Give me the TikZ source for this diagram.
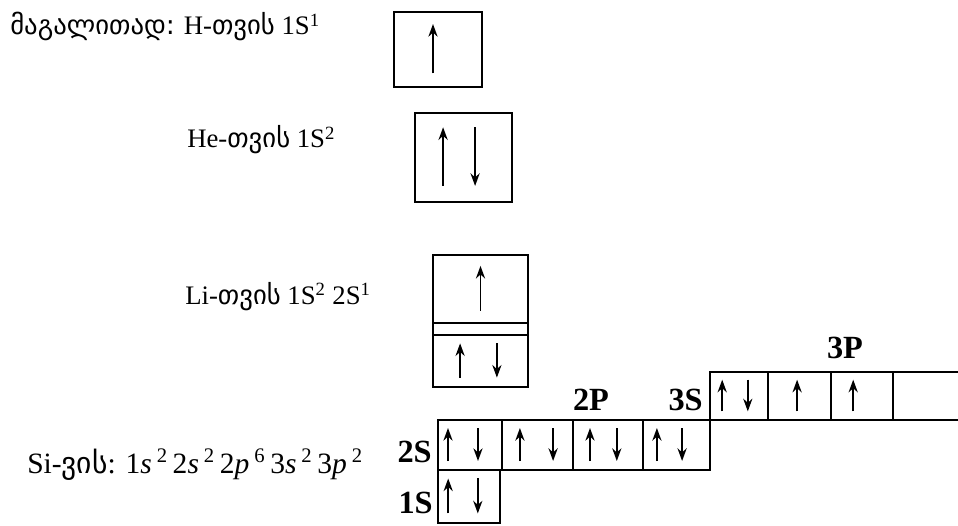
\documentclass[tikz,border=0pt]{standalone}
\usepackage{fontspec}
\setmainfont{Liberation Serif}
\newfontfamily\geo{DejaVu Sans}
\usetikzlibrary{arrows.meta,calc}

\newcommand{\spinup}[2]{\draw[spin] ($(#1.south)!0.18!(#1.north)+(#2,0)$) -- ($(#1.south)!0.84!(#1.north)+(#2,0)$);}
\newcommand{\spindn}[2]{\draw[spin] ($(#1.south)!0.84!(#1.north)+(#2,0)$) -- ($(#1.south)!0.18!(#1.north)+(#2,0)$);}
\newcommand{\shell}[3]{#1\textit{#2}\,\textsuperscript{#3}}

\begin{document}
\begin{tikzpicture}[
    orb/.style={rectangle, draw, line width=1.4pt, inner sep=0pt, outer sep=0pt},
    spin/.style={-{Stealth[length=9pt,width=6.5pt]}, line width=1.4pt},
    txt/.style={anchor=base west, inner sep=0pt, font=\fontsize{19}{22}\selectfont},
    lvl/.style={inner sep=0pt, font=\fontsize{23}{23}\selectfont\bfseries}
]
\useasboundingbox (0,0) rectangle (23.95,13.125);

\node[txt] (exH) at (0.25,12.25) {{\geo მაგალითად:} H-{\geo თვის} 1S\textsuperscript{1}};
\node[txt] (exHe) at (4.675,9.425) {He-{\geo თვის} 1S\textsuperscript{2}};
\node[txt] (exLi) at (4.625,5.525) {Li-{\geo თვის} 1S\textsuperscript{2} 2S\textsuperscript{1}};
\node[txt, font=\fontsize{21}{24}\selectfont] (exSi) at (0.675,1.3)
    {Si-{\geo ვის}: \shell{1}{s}{2}\,\shell{2}{s}{2}\,\shell{2}{p}{6}\,\shell{3}{s}{2}\,\shell{3}{p}{2}};

% H and He
\node[orb, minimum width=2.2cm, minimum height=1.875cm] (h1s) at (10.95,11.8875) {};
\node[orb, minimum width=2.425cm, minimum height=2.225cm] (he1s) at (11.5875,9.1875) {};
\spinup{h1s}{-0.125}
\spinup{he1s}{-0.51}
\spindn{he1s}{0.29}

% Li
\node[orb, minimum width=2.375cm, minimum height=1.7cm] (li2s) at (12.0125,5.9) {};
\node[orb, minimum width=2.375cm, minimum height=1.3cm] (li1s) at (12.0125,4.1) {};
\draw[line width=1.4pt] (li2s.south west) -- (li1s.north west);
\draw[line width=1.4pt] (li2s.south east) -- (li1s.north east);
\spinup{li2s}{0}
\spinup{li1s}{-0.51}
\spindn{li1s}{0.41}

% Si
\node[orb, minimum width=1.55cm, minimum height=1.325cm] (s1) at (11.725,0.7125) {};
\node[orb, minimum width=1.6cm, minimum height=1.25cm] (s2) at (11.75,2.0) {};
\node[orb, minimum width=1.775cm, minimum height=1.25cm] (p1) at (13.4375,2.0) {};
\node[orb, minimum width=1.75cm, minimum height=1.25cm] (p2) at (15.2,2.0) {};
\node[orb, minimum width=1.675cm, minimum height=1.25cm] (p3) at (16.9125,2.0) {};
\node[orb, minimum width=1.45cm, minimum height=1.2cm] (s3) at (18.475,3.225) {};
\node[orb, minimum width=1.575cm, minimum height=1.2cm] (q1) at (19.9875,3.225) {};
\node[orb, minimum width=1.55cm, minimum height=1.2cm] (q2) at (21.55,3.225) {};
\coordinate (q3top) at (24.2,3.825);
\coordinate (q3bot) at (24.2,2.625);
\draw[line width=1.4pt] (q2.north east) -- (q3top);
\draw[line width=1.4pt] (q2.south east) -- (q3bot);

\spinup{s1}{-0.52}
\spindn{s1}{0.22}
\spinup{s2}{-0.55}
\spindn{s2}{0.2}
\spinup{p1}{-0.44}
\spindn{p1}{0.39}
\spinup{p2}{-0.45}
\spindn{p2}{0.22}
\spinup{p3}{-0.49}
\spindn{p3}{0.14}
\spinup{s3}{-0.42}
\spindn{s3}{0.22}
\spinup{q1}{-0.06}
\spinup{q2}{-0.22}

\node[lvl, anchor=base east] (l2s) at (10.8,1.575) {2S};
\node[lvl, anchor=base east] (l1s) at (10.825,0.3) {1S};
\node[lvl, anchor=base] (l2p) at (14.775,2.875) {2P};
\node[lvl, anchor=base east] (l3s) at (17.575,2.875) {3S};
\node[lvl, anchor=base] (l3p) at (21.125,4.175) {3P};
\end{tikzpicture}
\end{document}
